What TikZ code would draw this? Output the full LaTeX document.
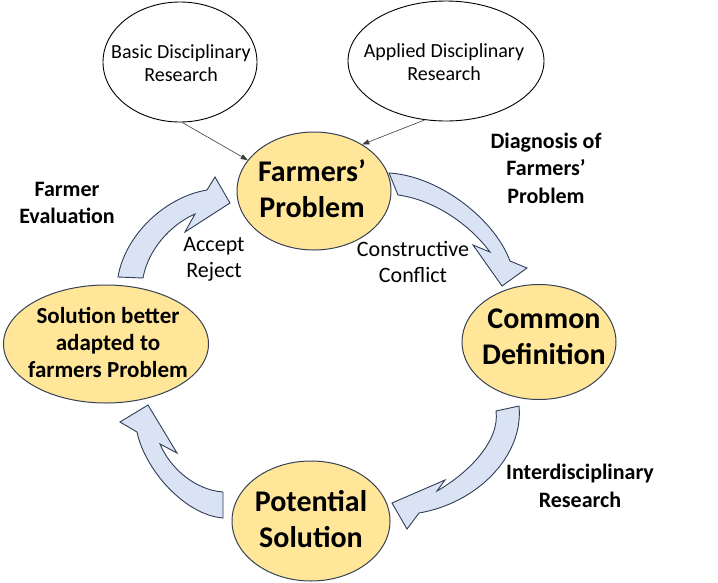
\documentclass[tikz,border=0pt]{standalone}
\usepackage{fontspec}
\setmainfont{Carlito}
\usetikzlibrary{shapes.geometric,arrows.meta}
\definecolor{yel}{RGB}{255,230,153}
\definecolor{yelline}{RGB}{55,65,85}
\definecolor{arrfill}{RGB}{218,227,243}
\definecolor{arrline}{RGB}{47,62,84}
\definecolor{thinline}{RGB}{60,60,60}
\begin{document}
\begin{tikzpicture}[x=1pt,y=-1pt,
  ell/.style={ellipse, draw=black, line width=0.9pt, fill=white, inner sep=0pt},
  yell/.style={ellipse, draw=yelline, line width=1pt, fill=yel, inner sep=0pt},
  blk/.style={draw=arrline, line width=0.9pt, fill=arrfill, line join=miter},
  thinarrow/.style={draw=thinline, line width=0.6pt, -{Triangle[length=7pt,width=5pt]}},
  bigtxt/.style={align=center, inner sep=0pt, font=\fontsize{30}{36}\selectfont\bfseries},
  midtxt/.style={align=center, inner sep=0pt, font=\fontsize{23}{27}\selectfont\bfseries},
  boldlab/.style={align=center, inner sep=0pt, font=\fontsize{22}{27.5}\selectfont\bfseries},
  reglab/.style={align=center, inner sep=0pt, font=\fontsize{22}{26}\selectfont},
  smalltxt/.style={align=center, inner sep=0pt, font=\fontsize{20}{23}\selectfont}
]
\useasboundingbox (0,0) rectangle (718,582);

% block arrows
\draw[blk] (389,173) .. controls (440,176) and (495,220) .. (510,261) -- (527,268) -- (502,286) -- (473,245) -- (490,252) .. controls (470,225) and (435,200) .. (398,195) -- cycle;
\draw[blk] (519,406) .. controls (524,455) and (478,503) .. (419,513) -- (407,529) -- (392,503) -- (445,480) -- (437,491) .. controls (470,472) and (500,440) .. (496,411) -- cycle;
\draw[blk] (223,518) .. controls (185,515) and (145,470) .. (137,432) -- (120,422) -- (148,405) -- (177,453) -- (160,444) .. controls (170,468) and (195,490) .. (223,492) -- cycle;
\draw[blk] (118,277) .. controls (125,235) and (165,197) .. (207,190) -- (215,177) -- (230,203) -- (185,232) -- (195,214) .. controls (170,225) and (148,250) .. (143,278) -- cycle;

% ellipses
\node[ell, minimum width=154pt, minimum height=120pt] (bdr) at (180,62) {};
\node[ell, minimum width=196pt, minimum height=120pt] (adr) at (446,61) {};
\node[yell, minimum width=154pt, minimum height=118pt] (fp) at (314,191) {};
\node[yell, minimum width=154pt, minimum height=115pt] (cd) at (539,342) {};
\node[yell, minimum width=158pt, minimum height=120pt] (ps) at (311,521) {};
\node[yell, minimum width=205pt, minimum height=118pt] (sb) at (106,344) {};

% texts in ellipses
\node[smalltxt] (bdrt) at (181,63) {Basic Disciplinary\\Research};
\node[smalltxt] (adrt) at (444,62) {Applied Disciplinary\\Research};
\node[bigtxt] (fpt) at (312,189) {Farmers’\\Problem};
\node[bigtxt] (cdt) at (544,337) {Common\\Definition};
\node[bigtxt] (pst) at (311,519) {Potential\\Solution};
\node[midtxt] (sbt) at (108,342) {Solution better\\adapted to\\farmers Problem};

% thin arrows
\draw[thinarrow] (bdr.-88) -- (fp.155);
\draw[thinarrow] (adr.-110) -- (fp.44);

% labels
\node[boldlab] (diag) at (546,168) {Diagnosis of\\Farmers’\\Problem};
\node[boldlab] (feval) at (67,203) {Farmer\\Evaluation};
\node[boldlab] (inter) at (580,486) {Interdisciplinary\\Research};
\node[reglab] (acc) at (214,259) {Accept\\Reject};
\node[reglab] (cons) at (413,262) {Constructive\\Conflict};
\end{tikzpicture}
\end{document}
